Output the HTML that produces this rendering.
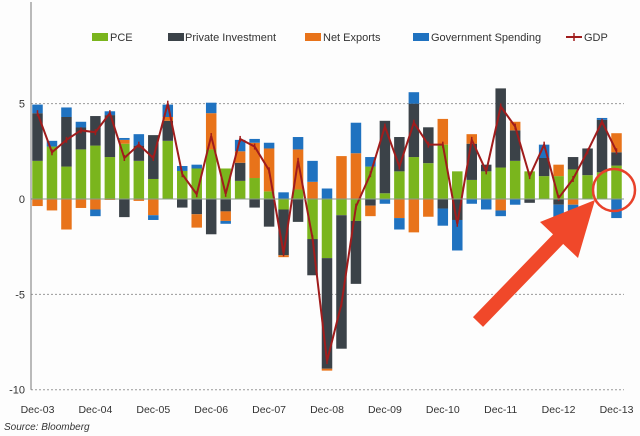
<!DOCTYPE html>
<html><head><meta charset="utf-8"><style>
html,body{margin:0;padding:0;background:#fff;}
svg{display:block;font-family:"Liberation Sans",sans-serif;}
</style></head><body>
<svg id="chart" width="640" height="436" viewBox="0 0 640 436">
<rect width="640" height="436" fill="#fdfdfd"/>
<g id="legend" font-size="11" fill="#333">
 <g><rect x="92" y="33" width="16" height="8" fill="#7ab51d"/><text x="110" y="41">PCE</text></g>
 <g><rect x="168" y="33" width="16" height="8" fill="#3b4248"/><text x="185" y="41">Private Investment</text></g>
 <g><rect x="305" y="33" width="16" height="8" fill="#e8731a"/><text x="323" y="41">Net Exports</text></g>
 <g><rect x="413" y="33" width="16" height="8" fill="#1f72c0"/><text x="431" y="41">Government Spending</text></g>
 <g><line x1="566" y1="37" x2="582" y2="37" stroke="#a01c1c" stroke-width="2"/><line x1="574" y1="33" x2="574" y2="41" stroke="#a01c1c" stroke-width="1.5"/><text x="584" y="41">GDP</text></g>
</g>
<g id="grid"></g>
<g id="bars"></g>
<g id="line"></g>
<g id="axes"></g>
<text x="4" y="430" font-size="10" font-style="italic" fill="#333">Source: Bloomberg</text>
<g>
 <circle cx="614" cy="190" r="21" fill="none" stroke="#e8412a" stroke-width="2.5"/>
 <line x1="478" y1="322" x2="565" y2="232" stroke="#f0482a" stroke-width="14"/>
 <polygon points="595,200 540,222 578,258" fill="#f0482a"/>
</g>
</svg>
<script>
const pce = [2.0,2.75,1.7,2.6,2.8,2.2,2.9,2.0,1.05,3.05,1.47,1.6,2.6,1.6,0.95,1.1,0.4,-0.55,0.5,-2.1,-3.1,-0.85,-1.15,1.7,0.3,1.45,2.2,1.88,2.85,1.45,1.0,1.45,1.65,2.0,1.45,1.2,1.2,1.55,1.25,1.4,1.75];
const inv = [2.5,0,2.6,1.15,1.55,2.2,-0.95,0.8,2.3,1.05,-0.45,-0.8,-1.85,-0.65,0.95,-0.45,-1.45,-2.4,-1.2,-1.9,-5.8,-7.0,-3.3,-0.35,3.8,1.8,2.8,1.88,-0.5,-1.1,1.9,0.35,4.15,1.6,-0.2,0.95,-0.3,0.65,1.4,2.75,0.7];
const nx = [-0.37,-0.6,-1.6,-0.47,-0.55,-0.05,0.2,-0.1,-0.85,0.2,0,-0.7,1.9,-0.5,0.6,1.85,2.25,-0.1,2.1,0.9,-0.1,2.25,2.4,-0.55,0,-1.0,-1.75,-0.93,1.35,0,0.5,0,-0.6,0.45,0,0,0.6,-0.3,0,0,1.0];
const gov = [0.45,0.3,0.5,0.3,-0.35,0.2,0.1,0.6,-0.25,0.65,0.26,0.2,0.55,-0.15,0.6,0.2,0.3,0.35,0.65,1.1,0.55,0,1.6,0.5,-0.25,-0.6,0.6,0,-0.9,-1.6,-0.25,-0.55,-0.3,-0.3,0,0.7,-1.35,-0.8,0,0.1,-1.0];
const gdp = [4.5,2.45,3.1,3.6,3.5,4.5,2.15,2.85,2.15,5.0,1.3,0.25,3.3,0.27,3.15,2.75,1.5,-2.85,2.0,-2.05,-8.5,-5.5,-0.4,1.3,3.8,1.7,4.0,2.85,2.85,-1.3,3.1,1.45,4.85,3.8,1.2,2.85,0.05,1.05,2.5,4.05,2.5];
const tickLabels = ["Dec-03","Dec-04","Dec-05","Dec-06","Dec-07","Dec-08","Dec-09","Dec-10","Dec-11","Dec-12","Dec-13"];
const yTicks = [5,0,-5,-10];

const NS="http://www.w3.org/2000/svg";
const x0=37.5, step=14.475, bw=10.5;
const xs=i=>x0+i*step;
const ys=v=>199-v*19.07;
function mk(tag,attrs,parent){const e=document.createElementNS(NS,tag);for(const k in attrs)e.setAttribute(k,attrs[k]);parent.appendChild(e);return e;}
const grid=document.getElementById('grid'),bars=document.getElementById('bars'),line=document.getElementById('line'),axes=document.getElementById('axes');

yTicks.forEach(t=>{
  if(t!==0){const g=mk('line',{x1:31,x2:624,y1:ys(t),y2:ys(t),stroke:'#999','stroke-dasharray':'2,2','stroke-width':1},grid);
  
  }
  const l=mk('text',{x:25,y:ys(t)+4,'text-anchor':'end','font-size':11,fill:'#333'},axes);
  l.textContent=t;
  
  
});
const za=mk('line',{x1:31,x2:624,y1:ys(0),y2:ys(0),stroke:'#8a9a8a','stroke-width':1},axes);


const ya=mk('line',{x1:31,x2:31,y1:2,y2:ys(-10),stroke:'#777','stroke-width':1},axes);



const series=[[pce,'#7ab51d','pce'],[inv,'#3b4248','investment'],[nx,'#e8731a','net-exports'],[gov,'#1f72c0','government']];
for(let i=0;i<gdp.length;i++){
  let pos=0,neg=0;
  series.forEach(([arr,col,nm])=>{
    const v=arr[i]; if(!v) return;
    let a,b;
    if(v>0){a=pos;b=pos+v;pos=b;}else{a=neg;b=neg+v;neg=b;}
    const r=mk('rect',{x:xs(i)-bw/2,y:Math.min(ys(a),ys(b)),width:bw,height:Math.abs(ys(a)-ys(b)),fill:col},bars);
    
    
  });
}
const pts=gdp.map((v,i)=>xs(i)+','+ys(v)).join(' ');
const pl=mk('polyline',{points:pts,fill:'none',stroke:'#a01c1c','stroke-width':2},line);


gdp.forEach((v,i)=>{
  const m=mk('line',{x1:xs(i),x2:xs(i),y1:ys(v)-3,y2:ys(v)+3,stroke:'#a01c1c','stroke-width':1.5},line);
  
  
});
tickLabels.forEach((t,j)=>{
  const l=mk('text',{x:xs(j*4),y:413,'text-anchor':'middle','font-size':10.5,fill:'#333'},axes);
  l.textContent=t;
  
  
});
</script>
</body></html>
